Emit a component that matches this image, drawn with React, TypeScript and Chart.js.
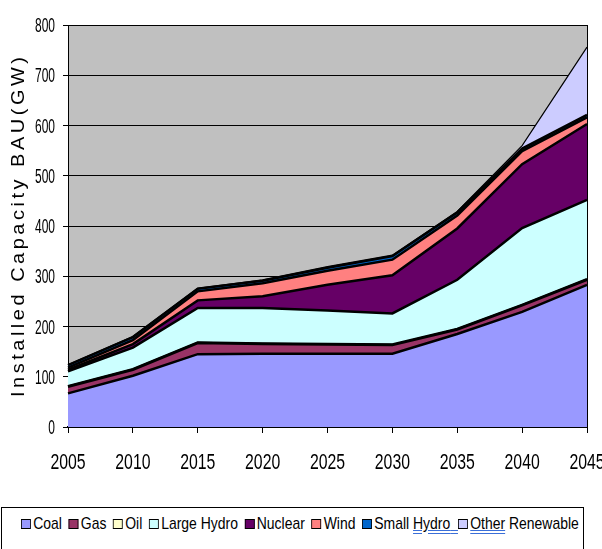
import React, { useEffect, useRef } from "react";
import { Chart, registerables } from "chart.js";

Chart.register(...registerables);

// Installed capacity by source, GW (stacked)
const years = ["2005", "2010", "2015", "2020", "2025", "2030", "2035", "2040", "2045"];
const coal = [67, 102, 145, 146, 146, 146, 185, 229, 283];
const gas = [13, 12, 22, 19, 18, 17, 9, 13, 10];
const oil = [1, 1, 1, 1, 1, 1, 1, 1, 1];
const largeHydro = [30, 43, 69, 71, 67, 62, 98, 153, 158];
const nuclear = [3, 7, 15, 23, 51, 76, 102, 127, 151];
const wind = [4, 8, 18, 26, 28, 31, 26, 26, 13];
const smallHydro = [5, 6, 5, 5, 6, 7, 6, 5, 5];
const otherRenewable = [1, 1, 1, 2, 2, 2, 2, 6, 135];

const seriesNames = ["Coal", "Gas", "Oil", "Large Hydro", "Nuclear", "Wind", "Small Hydro", "Other Renewable"];
const seriesValues = [coal, gas, oil, largeHydro, nuclear, wind, smallHydro, otherRenewable];
const seriesColors = ["#9999FF", "#993366", "#FFFFCC", "#CCFFFF", "#660066", "#FF8080", "#0066CC", "#CCCCFF"];

const yMin = 0;
const yMax = 800;
const yStep = 100;
const yTitle = "Installed Capacity BAU(GW)";

const SANS = '"Liberation Sans", Arial, sans-serif';

// text drawn with a horizontal squeeze, like a condensed face
function drawCondensed(
  ctx: CanvasRenderingContext2D,
  text: string,
  x: number,
  y: number,
  size: number,
  sx: number,
  align: CanvasTextAlign
) {
  ctx.save();
  ctx.translate(x, y);
  ctx.scale(sx, 1);
  ctx.font = `${size}px ${SANS}`;
  ctx.fillStyle = "#000";
  ctx.textAlign = align;
  ctx.textBaseline = "alphabetic";
  ctx.fillText(text, 0, 0);
  ctx.restore();
}

const plotFrame = {
  id: "plotFrame",
  beforeDraw(chart: any) {
    const { ctx, chartArea: a } = chart;
    ctx.save();
    ctx.fillStyle = "#C0C0C0";
    ctx.fillRect(a.left, a.top, a.right - a.left, a.bottom - a.top);
    ctx.restore();
  },
  afterDraw(chart: any) {
    const { ctx, chartArea: a } = chart;
    const xs = chart.scales.x;
    const ys = chart.scales.y;

    ctx.save();
    ctx.strokeStyle = "#000";
    ctx.lineWidth = 1;
    ctx.beginPath();
    ctx.moveTo(a.right + 0.5, a.top);
    ctx.lineTo(a.right + 0.5, a.bottom);
    ctx.stroke();
    ctx.restore();

    // y tick labels
    ys.ticks.forEach((t: any) => {
      const py = ys.getPixelForValue(t.value);
      drawCondensed(ctx, String(t.value), a.left - 13, py + 7, 20, 0.6, "right");
    });

    // x tick labels
    xs.ticks.forEach((t: any, i: number) => {
      const px = xs.getPixelForTick(i);
      drawCondensed(ctx, String(xs.getLabelForValue(t.value)), px, a.bottom + 42, 22, 0.72, "center");
    });

    // axis title, rotated and letter-spaced along the axis
    ctx.save();
    ctx.font = `20px ${SANS}`;
    const w = ctx.measureText(yTitle).width;
    const span = a.bottom - 30 - (a.top + 32);
    const gap = Math.max(0, (span - w) / (yTitle.length - 1));
    (ctx as any).letterSpacing = `${gap}px`;
    ctx.translate(24, a.bottom - 30);
    ctx.rotate(-Math.PI / 2);
    ctx.scale(1, 0.92);
    ctx.fillStyle = "#000";
    ctx.textAlign = "left";
    ctx.textBaseline = "alphabetic";
    ctx.fillText(yTitle, 0, 0);
    ctx.restore();
  },
};

function Legend() {
  const box: React.CSSProperties = {
    display: "inline-block",
    width: 10,
    height: 8,
    border: "1px solid #000",
    marginRight: 3,
    verticalAlign: "0px",
  };
  const squiggle: React.CSSProperties = {
    textDecorationLine: "underline",
    textDecorationStyle: "double",
    textDecorationColor: "#3B6FD8",
  };
  return (
    <div
      style={{
        position: "absolute",
        left: 1,
        top: 507,
        width: 583,
        height: 60,
        boxSizing: "border-box",
        border: "1px solid #000",
        overflow: "hidden",
      }}
    >
      <div
        style={{
          position: "absolute",
          left: 19,
          top: 6,
          fontFamily: SANS,
          fontSize: 17,
          color: "#000",
          whiteSpace: "nowrap",
          transform: "scaleX(0.82)",
          transformOrigin: "0 0",
        }}
      >
        {seriesNames.map((name, i) => {
          const sq = <span style={{ ...box, background: seriesColors[i] }} />;
          if (i === 6) {
            const [first, second] = name.split(" ");
            return (
              <span key={name}>
                {sq}
                {first} <span style={squiggle}>{second}&nbsp;&nbsp;</span>
              </span>
            );
          }
          if (i === 7) {
            const [first, ...rest] = name.split(" ");
            return (
              <span key={name}>
                {sq}
                <span style={squiggle}>{first}</span> {rest.join(" ")}
              </span>
            );
          }
          return (
            <span key={name} style={{ marginRight: 8 }}>
              {sq}
              {name}
            </span>
          );
        })}
      </div>
    </div>
  );
}

export default function App() {
  const canvasRef = useRef<HTMLCanvasElement | null>(null);

  useEffect(() => {
    const canvas = canvasRef.current;
    if (!canvas) return;
    const chart = new Chart(canvas, {
      type: "line",
      data: {
        labels: years,
        datasets: seriesNames.map((name, i) => ({
          label: name,
          data: seriesValues[i],
          backgroundColor: seriesColors[i],
          borderColor: "#000",
          borderWidth: i === 7 ? 1.2 : 2.5,
          fill: i === 0 ? "origin" : "-1",
          pointRadius: 0,
          pointHoverRadius: 0,
          tension: 0,
        })),
      },
      options: {
        responsive: false,
        animation: false,
        devicePixelRatio: 1,
        layout: { padding: { left: 0, right: 15, top: 25, bottom: 13 } },
        plugins: {
          legend: { display: false },
          tooltip: { enabled: false },
          title: { display: false },
        },
        scales: {
          x: {
            type: "category",
            offset: false,
            grid: {
              display: true,
              drawOnChartArea: false,
              drawTicks: true,
              tickLength: 6,
              color: "#000",
              offset: false,
            },
            border: { display: true, color: "#000", width: 2 },
            ticks: { display: false, autoSkip: false, maxRotation: 0 },
            afterFit(axis: any) {
              axis.height = 50;
              axis.paddingLeft = 0;
              axis.paddingRight = 0;
            },
          },
          y: {
            stacked: true,
            min: yMin,
            max: yMax,
            grid: {
              color: "#000",
              lineWidth: 1,
              drawTicks: true,
              tickLength: 5,
            },
            border: { display: true, color: "#000", width: 1 },
            ticks: { display: false, stepSize: yStep },
            afterFit(axis: any) {
              axis.width = 68;
              axis.paddingTop = 0;
              axis.paddingBottom = 0;
            },
          },
        },
      },
      plugins: [plotFrame],
    });
    return () => chart.destroy();
  }, []);

  return (
    <div
      style={{
        position: "fixed",
        left: 0,
        top: 0,
        width: 602,
        height: 549,
        background: "#fff",
        overflow: "hidden",
      }}
    >
      <canvas ref={canvasRef} width={602} height={490} style={{ display: "block" }} />
      <Legend />
    </div>
  );
}
